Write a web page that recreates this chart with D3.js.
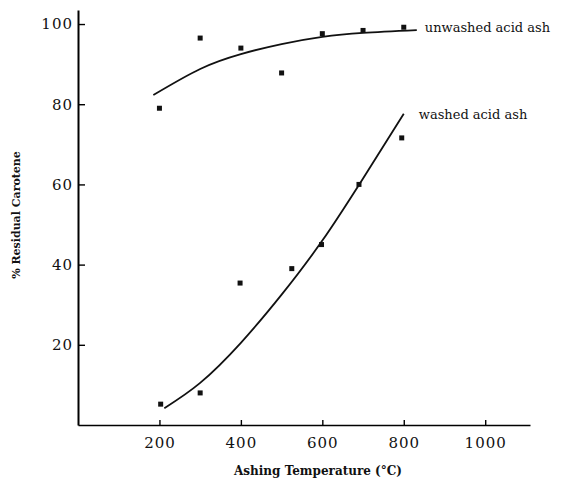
<!DOCTYPE html>
<html>
<head>
<meta charset="utf-8">
<script src="https://cdn.jsdelivr.net/npm/d3@7"></script>
<style>
  body { margin: 0; background: #fff; }
  text { font-family: "DejaVu Serif", serif; fill: #111; }
</style>
</head>
<body>
<svg id="chart"></svg>
<script>
// Measured points
const unwashedTemp = [200, 300, 400, 500, 600, 700, 800];
const unwashedVal = [79, 96.5, 94, 87.8, 97.6, 98.4, 99.2];
const washedTemp = [203, 300, 398, 525, 598, 690, 795];
const washedVal = [5.2, 8, 35.4, 39, 45, 60, 71.6];

// Fitted curves
const unwashedFitT = [185, 300, 400, 500, 600, 700, 832];
const unwashedFitV = [82.3, 88.8, 92.5, 95, 96.8, 97.8, 98.5];
const washedFitT = [212, 300, 400, 500, 600, 700, 800];
const washedFitV = [4.2, 10.5, 20.5, 32.5, 46, 61.5, 77.6];

const xTicks = [200, 400, 600, 800, 1000];
const yTicks = [20, 40, 60, 80, 100];

const width = 570, height = 482;
const svg = d3.select("#chart").attr("width", width).attr("height", height);

const x = d3.scaleLinear().domain([0, 1110]).range([78, 530]);
const y = d3.scaleLinear().domain([0, 103.5]).range([425, 10]);

// Axes (ticks point inward)
svg.append("g")
  .attr("transform", `translate(0,${y(0)})`)
  .call(d3.axisBottom(x).tickValues(xTicks).tickFormat(d3.format("d"))
    .tickSize(-5).tickPadding(12).tickSizeOuter(0))
  .call((g) => g.select(".domain").attr("stroke-width", 1.6))
  .call((g) => g.selectAll(".tick line").attr("stroke-width", 1.4))
  .call((g) => g.selectAll("text").attr("font-size", 15).attr("letter-spacing", 1));

svg.append("g")
  .attr("transform", `translate(${x(0)},0)`)
  .call(d3.axisLeft(y).tickValues(yTicks).tickSize(-7).tickPadding(5).tickSizeOuter(0))
  .call((g) => g.select(".domain").attr("stroke-width", 2))
  .call((g) => g.selectAll(".tick line").attr("stroke-width", 1.4))
  .call((g) => g.selectAll("text").attr("font-size", 15).attr("letter-spacing", 1));

// Lines
const line = d3.line().x((d) => x(d[0])).y((d) => y(d[1])).curve(d3.curveNatural);
svg.append("path")
  .datum(d3.zip(unwashedFitT, unwashedFitV))
  .attr("d", line)
  .attr("fill", "none").attr("stroke", "#111").attr("stroke-width", 1.8);
svg.append("path")
  .datum(d3.zip(washedFitT, washedFitV))
  .attr("d", line)
  .attr("fill", "none").attr("stroke", "#111").attr("stroke-width", 1.8);

// Points
const sz = 5;
function drawPoints(ts, vs) {
  svg.append("g")
    .selectAll("rect")
    .data(d3.zip(ts, vs))
    .join("rect")
    .attr("x", (d) => x(d[0]) - sz / 2)
    .attr("y", (d) => y(d[1]) - sz / 2)
    .attr("width", sz)
    .attr("height", sz)
    .attr("fill", "#111");
}
drawPoints(unwashedTemp, unwashedVal);
drawPoints(washedTemp, washedVal);

// Series labels
svg.append("text")
  .attr("x", x(unwashedFitT[unwashedFitT.length - 1]) + 8)
  .attr("y", y(unwashedFitV[unwashedFitV.length - 1]) + 2)
  .attr("font-size", 13)
  .text("unwashed acid ash");
svg.append("text")
  .attr("x", x(washedFitT[washedFitT.length - 1]) + 15)
  .attr("y", y(washedFitV[washedFitV.length - 1]) + 5)
  .attr("font-size", 13)
  .text("washed acid ash");

// Axis titles
svg.append("text")
  .attr("x", 318).attr("y", 475)
  .attr("text-anchor", "middle")
  .attr("font-size", 12).attr("font-weight", "bold")
  .text("Ashing Temperature (°C)");
svg.append("text")
  .attr("transform", "translate(20,215) rotate(-90)")
  .attr("text-anchor", "middle")
  .attr("font-size", 11).attr("font-weight", "bold")
  .text("% Residual Carotene");
</script>
</body>
</html>
